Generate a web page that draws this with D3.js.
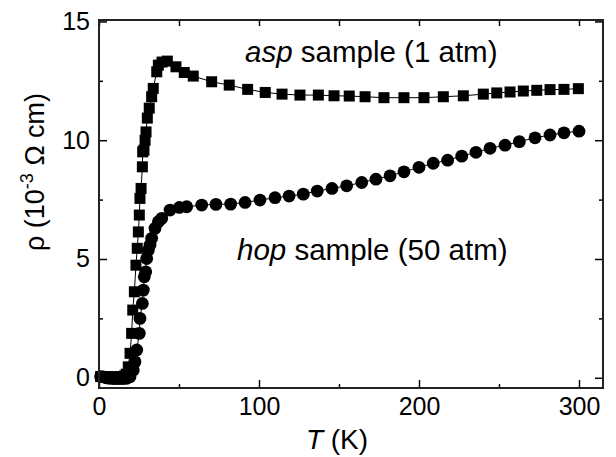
<!DOCTYPE html>
<html>
<head>
<meta charset="utf-8">
<script src="https://cdn.jsdelivr.net/npm/d3@7"></script>
<style>
  body { margin: 0; background: #fff; }
  svg text { font-family: "Liberation Sans", Arial, Helvetica, sans-serif; fill: #000; }
</style>
</head>
<body>
<div id="chart"></div>
<script>
// asp sample (1 atm) - squares
const aspT = [1, 2.5, 4, 5.5, 7, 8.5, 10, 11.5, 13, 14.5, 16, 17, 18.3, 19.4, 20.4, 21.1, 22.1, 23.1, 23.9, 24.6, 25.2, 25.6, 26.3, 27.1, 27.3, 28.1, 28.8, 29.4, 30.2, 31.4, 32.9, 33.9, 36.1, 37.1, 39.4, 42.7, 48.1, 53.3, 58.9, 70.4, 81.4, 92.9, 103.9, 114.4, 125.6, 137.1, 146.9, 156.4, 166.3, 178.1, 190.6, 203.1, 215.2, 227.7, 240.2, 248.6, 256.9, 265.2, 273.6, 281.9, 290.6, 299.6];
const aspRho = [0.05, 0.05, 0.04, 0.04, 0.03, 0.03, 0.03, 0.03, 0.04, 0.05, 0.08, 0.15, 0.46, 1.03, 1.87, 2.85, 3.62, 4.74, 5.45, 6.14, 6.85, 7.55, 7.97, 8.88, 9.51, 9.58, 10.0, 10.35, 10.93, 11.35, 11.83, 12.18, 12.88, 13.16, 13.29, 13.33, 13.09, 12.85, 12.70, 12.46, 12.32, 12.14, 12.01, 11.94, 11.90, 11.90, 11.87, 11.86, 11.83, 11.79, 11.79, 11.79, 11.83, 11.87, 11.94, 11.99, 12.03, 12.07, 12.10, 12.13, 12.14, 12.17];

// hop sample (50 atm) - circles
const hopT = [1, 2.7, 4.5, 6.5, 8.9, 11, 13, 15.2, 17.3, 19.4, 21.4, 22.5, 23.6, 25.2, 25.6, 27.1, 27.7, 28.3, 29.2, 29.8, 30.8, 31.9, 32.9, 35, 37.1, 39.2, 44.4, 50.2, 54.8, 64.2, 73.1, 82.3, 91.3, 100.6, 110, 118.8, 127.7, 136.4, 145.6, 154.8, 164.2, 173.1, 181.9, 190.6, 200, 208.9, 217.9, 226.7, 235.6, 244.4, 253.8, 262.7, 272.5, 281.9, 290.6, 300];
const hopRho = [0.05, 0.04, 0.0, -0.02, -0.03, -0.03, -0.03, -0.03, -0.02, 0.04, 0.32, 0.67, 1.17, 1.87, 2.50, 3.13, 3.69, 4.25, 4.46, 5.02, 5.37, 5.59, 5.87, 6.29, 6.57, 6.71, 7.06, 7.17, 7.20, 7.27, 7.30, 7.31, 7.38, 7.48, 7.58, 7.65, 7.73, 7.86, 7.97, 8.08, 8.22, 8.36, 8.50, 8.67, 8.86, 9.03, 9.16, 9.33, 9.49, 9.66, 9.79, 9.94, 10.10, 10.22, 10.31, 10.38];

const xMajor = [0, 100, 200, 300];
const xMinor = [50, 150, 250];
const yMajor = [0, 5, 10, 15];
const yMinor = [2.5, 7.5, 12.5];

const W = 616, H = 457;
const plotL = 99, plotR = 603, plotT = 20, plotB = 388;

const svg = d3.select("#chart").append("svg")
  .attr("width", W).attr("height", H);

const x = d3.scaleLinear().domain([0, 315]).range([plotL, plotR]);
const y = d3.scaleLinear().domain([-0.43, 15.06]).range([plotB, plotT]);

// series
const asp = aspT.map((t, i) => ({ t: t, r: aspRho[i] }));
const hop = hopT.map((t, i) => ({ t: t, r: hopRho[i] }));

const line = d3.line().x(d => x(d.t)).y(d => y(d.r));

svg.append("path").datum(hop)
  .attr("d", line).attr("fill", "none").attr("stroke", "#000").attr("stroke-width", 1);
svg.append("path").datum(asp)
  .attr("d", line).attr("fill", "none").attr("stroke", "#000").attr("stroke-width", 1);

svg.append("g").selectAll("circle")
  .data(hop).enter().append("circle")
  .attr("cx", d => x(d.t)).attr("cy", d => y(d.r))
  .attr("r", 6.4).attr("fill", "#000");

const sq = 11;
svg.append("g").selectAll("rect")
  .data(asp).enter().append("rect")
  .attr("x", d => x(d.t) - sq / 2).attr("y", d => y(d.r) - sq / 2)
  .attr("width", sq).attr("height", sq).attr("fill", "#000");

// axes (ticks point inward)
function styleAxis(g) {
  g.select(".domain").remove();
  g.selectAll(".tick line").attr("stroke", "#000").attr("stroke-width", 1.5);
  g.selectAll(".tick text").style("font-size", "25px");
}

svg.append("g").attr("transform", "translate(0," + plotB + ")")
  .call(d3.axisBottom(x).tickValues(xMajor).tickSize(-8).tickPadding(9))
  .call(styleAxis);
svg.append("g").attr("transform", "translate(0," + plotB + ")")
  .call(d3.axisBottom(x).tickValues(xMinor).tickSize(-4).tickFormat(""))
  .call(styleAxis);
svg.append("g").attr("transform", "translate(0," + plotT + ")")
  .call(d3.axisTop(x).tickValues(xMajor.concat(xMinor)).tickSize(-6).tickFormat(""))
  .call(styleAxis);

svg.append("g").attr("transform", "translate(" + plotL + ",0)")
  .call(d3.axisLeft(y).tickValues(yMajor).tickSize(-8).tickPadding(9))
  .call(styleAxis);
svg.append("g").attr("transform", "translate(" + plotL + ",0)")
  .call(d3.axisLeft(y).tickValues(yMinor).tickSize(-4).tickFormat(""))
  .call(styleAxis);
svg.append("g").attr("transform", "translate(" + plotR + ",0)")
  .call(d3.axisRight(y).tickValues(yMajor).tickSize(-8).tickFormat(""))
  .call(styleAxis);
svg.append("g").attr("transform", "translate(" + plotR + ",0)")
  .call(d3.axisRight(y).tickValues(yMinor).tickSize(-4).tickFormat(""))
  .call(styleAxis);

// frame
svg.append("rect")
  .attr("x", plotL).attr("y", plotT)
  .attr("width", plotR - plotL).attr("height", plotB - plotT)
  .attr("fill", "none").attr("stroke", "#222").attr("stroke-width", 2);

// axis titles
const xt = svg.append("text")
  .attr("x", 337).attr("y", 449)
  .attr("text-anchor", "middle").style("font-size", "28px");
xt.append("tspan").style("font-style", "italic").text("T");
xt.append("tspan").text(" (K)");

const yt = svg.append("text")
  .attr("transform", "translate(44,172) rotate(-90)")
  .attr("text-anchor", "middle").style("font-size", "27px");
yt.append("tspan").text("ρ  (10");
yt.append("tspan").attr("dy", -11).style("font-size", "18px").text("-3");
yt.append("tspan").attr("dy", 11).text(" Ω cm)");

// annotations
const a1 = svg.append("text")
  .attr("x", 245).attr("y", 62).style("font-size", "29.5px");
a1.append("tspan").style("font-style", "italic").text("asp");
a1.append("tspan").text(" sample (1 atm)");

const a2 = svg.append("text")
  .attr("x", 237).attr("y", 260).style("font-size", "29.5px");
a2.append("tspan").style("font-style", "italic").text("hop");
a2.append("tspan").text(" sample (50 atm)");
</script>
</body>
</html>
